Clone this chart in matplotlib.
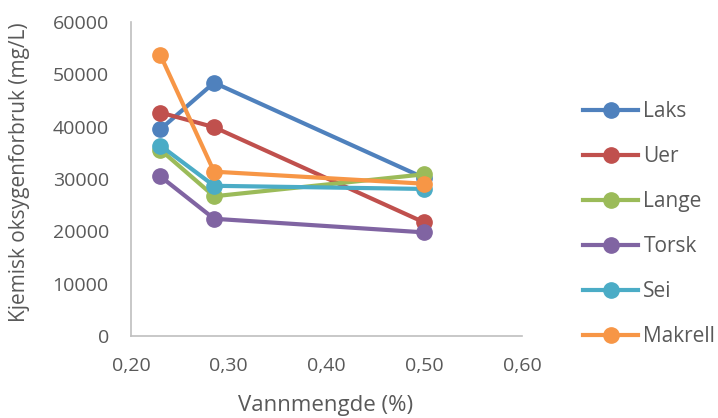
import matplotlib.pyplot as plt
import numpy as np

plt.rcParams['font.family'] = ['Open Sans', 'DejaVu Sans']

vann = [0.23, 0.285, 0.50]
laks = [39500, 48400, 30200]
uer = [42700, 39900, 21700]
lange = [35600, 26700, 30900]
torsk = [30500, 22400, 19800]
sei = [36400, 28700, 28100]
makrell = [53700, 31400, 29100]

navn = ['Laks', 'Uer', 'Lange', 'Torsk', 'Sei', 'Makrell']
farger = ['#4F81BD', '#C0504D', '#9BBB59', '#8064A2', '#4BACC6', '#F79646']
serier = [laks, uer, lange, torsk, sei, makrell]

W, H = 718, 418
fig = plt.figure(figsize=(W/100, H/100), dpi=100)
ax = fig.add_axes([131/W, 1-336/H, 391/W, 314/H])

for y, n, c in zip(serier, navn, farger):
    ax.plot(vann, y, color=c, lw=3, marker='o', ms=11, label=n)

ax.set_xlim(0.2, 0.6)
ax.set_ylim(0, 60000)
xt = np.arange(0.2, 0.61, 0.1)
ax.set_xticks(xt)
ax.set_xticklabels([f'{v:.2f}'.replace('.', ',') for v in xt])
ax.set_yticks(range(0, 60001, 10000))
ax.tick_params(length=0, labelsize=14, colors='#595959')
ax.tick_params(axis='x', pad=15)
ax.tick_params(axis='y', pad=16)
for s in ['top', 'right']:
    ax.spines[s].set_visible(False)
for s in ['left', 'bottom']:
    ax.spines[s].set_color('#BFBFBF')
    ax.spines[s].set_linewidth(1.2)

# aksetitler
fig.text(326/W, 1-405/H, 'Vannmengde (%)', fontsize=16, color='#595959',
         ha='center', va='center')
fig.text(20/W, 1-172/H, 'Kjemisk oksygenforbruk (mg/L)', fontsize=15,
         color='#595959', ha='center', va='center', rotation=90)

ax.legend(loc='center left', bbox_to_anchor=(583/W, 1-224/H),
          bbox_transform=fig.transFigure, frameon=False, borderpad=0,
          borderaxespad=0, fontsize=15, labelspacing=1.15, handlelength=2.65,
          handletextpad=0.25, labelcolor='#595959')

fig.savefig('out.png', dpi=100)
